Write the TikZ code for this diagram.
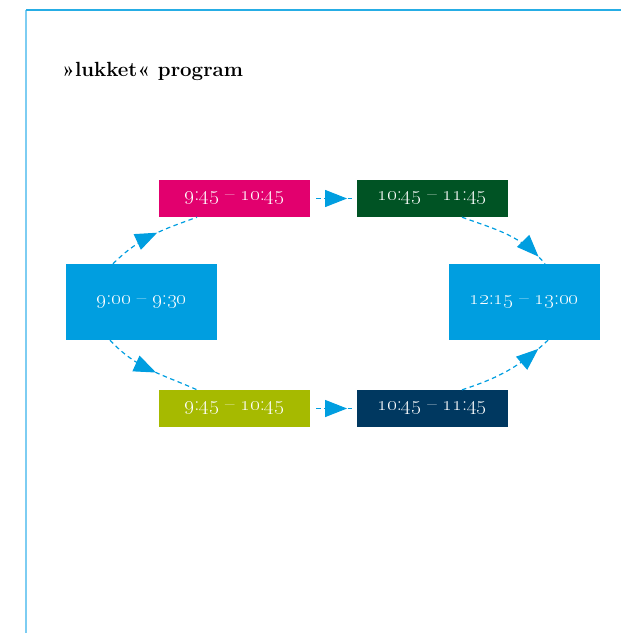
\documentclass[tikz,border=0pt]{standalone}
\usepackage{tikz}
\usetikzlibrary{arrows.meta,decorations.markings}

\definecolor{slotcyan}{RGB}{0,158,224}
\definecolor{slotpink}{RGB}{226,0,110}
\definecolor{slotgreen}{RGB}{0,83,36}
\definecolor{slotolive}{RGB}{166,186,0}
\definecolor{slotnavy}{RGB}{0,56,96}
\definecolor{framecyan}{RGB}{125,205,242}

\newcommand{\hhmm}[2]{\oldstylenums{#1}:\oldstylenums{#2}}

\tikzset{
  slot/.style={fill=#1, text=white, minimum width=151pt, minimum height=37pt,
    inner sep=0pt, font=\fontsize{20.5}{24}\selectfont},
  bigslot/.style={slot=#1, minimum height=76pt},
  flow/.style={draw=slotcyan, line width=1.2pt, dash pattern=on 4.5pt off 3.5pt,
    postaction={decorate}, decoration={markings,
      mark=at position #1 with {\arrow[slotcyan]{Triangle[length=22pt,width=17pt]}}}},
}

\begin{document}
\begin{tikzpicture}[x=1pt,y=1pt]
        \useasboundingbox (0,0) rectangle (621,-634);
        % frame
        \draw[framecyan, line width=1.2pt] (26,-10) -- (26,-633);
        \draw[slotcyan!85, line width=1.5pt] (26,-10) -- (621,-10);
        \node[anchor=base west, inner sep=0pt, font=\fontsize{20.5}{24}\selectfont\bfseries]
          (title) at (62,-76) {»lukket« program};
        % slots
        \node[bigslot=slotcyan] (start) at (141.5,-302) {\hhmm{9}{00} -- \hhmm{9}{30}};
        \node[bigslot=slotcyan] (final) at (524,-302) {\hhmm{12}{15} -- \hhmm{13}{00}};
        \node[slot=slotpink] (top1) at (234.5,-198.5) {\hhmm{9}{45} -- \hhmm{10}{45}};
        \node[slot=slotgreen] (top2) at (432,-198.5) {\hhmm{10}{45} -- \hhmm{11}{45}};
        \node[slot=slotolive] (bot1) at (234.5,-408.5) {\hhmm{9}{45} -- \hhmm{10}{45}};
        \node[slot=slotnavy] (bot2) at (432,-408.5) {\hhmm{10}{45} -- \hhmm{11}{45}};
        % flows
        \draw[flow=0.56] ([xshift=-28.5pt]start.north) to[out=45,in=200] ([xshift=-37.5pt]top1.south);
        \draw[flow=0.8, shorten <=6pt, shorten >=4pt] (top1.east) -- (top2.west);
        \draw[flow=0.9] ([xshift=30pt]top2.south) to[out=-20,in=130] ([xshift=21pt]final.north);
        \draw[flow=0.56] ([xshift=-31.5pt]start.south) to[out=-47,in=156] ([xshift=-37.5pt]bot1.north);
        \draw[flow=0.8, shorten <=6pt, shorten >=4pt] (bot1.east) -- (bot2.west);
        \draw[flow=0.87] ([xshift=30pt]bot2.north) to[out=18,in=223] ([xshift=24pt]final.south);
    \end{tikzpicture}
\end{document}
